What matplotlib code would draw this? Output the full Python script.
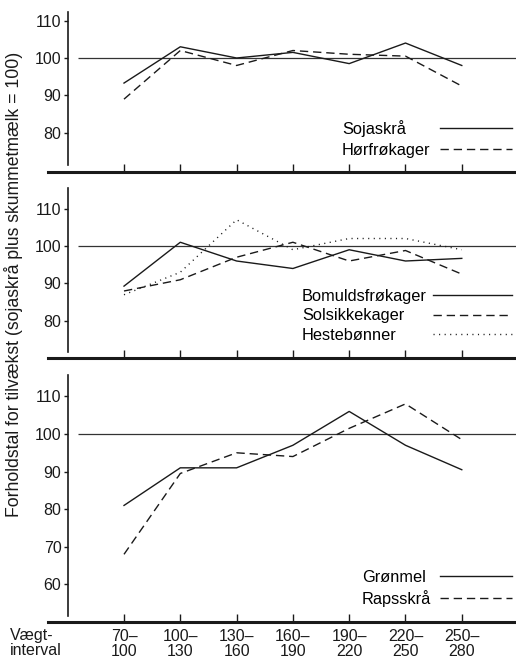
import matplotlib
matplotlib.use("Agg")
import matplotlib.pyplot as plt

plt.rcParams['font.family'] = ['Liberation Sans', 'DejaVu Sans']
plt.rcParams['font.size'] = 11.5

# ---- data ----
intervals = ["70–\n100", "100–\n130", "130–\n160", "160–\n190",
             "190–\n220", "220–\n250", "250–\n280"]
x = list(range(len(intervals)))

sojaskraa = [93.3, 103, 100, 101.5, 98.5, 104, 98]
hoerfroekager = [89, 102, 98, 102, 101, 100.5, 92.5]

bomuldsfroekager = [89.3, 101, 96, 94, 99, 96, 96.7]
solsikkekager = [88, 91, 97, 101, 96, 98.8, 92.5]
hestebonner = [87, 93, 107, 99, 102, 102, 99]

groenmel = [81, 91, 91, 97, 106, 97, 90.5]
rapsskraa = [68, 89.5, 95, 94, 101.5, 108, 98.5]

yticks_top = [80, 90, 100, 110]
yticks_bottom = [60, 70, 80, 90, 100, 110]

ylabel = "Forholdstal for tilvækst (sojaskrå plus skummetmælk = 100)"
xtitle = "Vægt-\ninterval"

# ---- layout helpers (pixels -> figure fraction) ----
W, H = 516, 661
fig = plt.figure(figsize=(W / 100, H / 100), dpi=100)

def fy(p):
    return 1 - p / H

XL = (-1.35, 6.963)
INK = '#1a1a1a'
dashed = (0, (6, 3.5))
dotted = (0, (0.8, 3.2))
LEGFS = 11.8

def make_panel(top_px, bot_px, ylim, spine_bounds, yticks):
    ax = fig.add_axes([48 / W, fy(bot_px), 1 - 48 / W, (bot_px - top_px) / H])
    ax.set_xlim(*XL)
    ax.set_ylim(*ylim)
    ax.patch.set_alpha(0)
    for s in ('top', 'right'):
        ax.spines[s].set_visible(False)
    ax.spines['left'].set_position(('data', -1.0))
    ax.spines['left'].set_bounds(*spine_bounds)
    ax.spines['left'].set_linewidth(1.2)
    ax.spines['left'].set_color(INK)
    ax.spines['bottom'].set_linewidth(2.2)
    ax.spines['bottom'].set_color(INK)
    ax.set_yticks(yticks)
    ax.tick_params(axis='y', direction='out', length=3, width=1, pad=1.5,
                   colors=INK, labelsize=11.5)
    ax.set_xticks(x)
    ax.tick_params(axis='x', direction='in', length=6, width=1, colors=INK)
    ax.set_xticklabels([])
    ax.hlines(100, -0.817, XL[1], color='#333333', lw=0.9)
    return ax

def add_legend(ax, left_px, right_px, top_px, hl, ls):
    leg = ax.legend(loc='upper right', bbox_to_anchor=(right_px / W, fy(top_px)),
                    bbox_transform=fig.transFigure, frameon=False, markerfirst=False,
                    handlelength=hl, handletextpad=0.3, borderpad=0, borderaxespad=0,
                    labelspacing=ls, fontsize=LEGFS)
    # left-align the texts, right-align the keys in a fixed-width row
    for col in leg._legend_handle_box.get_children():
        for row in col.get_children():
            row.mode = 'expand'
            row.set_width(right_px - left_px)
    return leg

# panel 1
ax1 = make_panel(5, 172, (69.52, 114.17), (71.4, 112.3), yticks_top)
ax1.plot(x, sojaskraa, color=INK, lw=1.0, label="Sojaskrå")
ax1.plot(x, hoerfroekager, color=INK, lw=1.0, ls=dashed, label="Hørfrøkager")
add_legend(ax1, 342, 512, 120, 4.4, 0.38)

# panel 2
ax2 = make_panel(185, 358, (70.13, 116.27), (71.7, 115.5), yticks_top)
ax2.plot(x, bomuldsfroekager, color=INK, lw=1.0, label="Bomuldsfrøkager")
ax2.plot(x, solsikkekager, color=INK, lw=1.0, ls=dashed, label="Solsikkekager")
ax2.plot(x, hestebonner, color=INK, lw=1.0, ls=dotted, label="Hestebønner")
add_legend(ax2, 302, 512, 289, 4.85, 0.26)

# panel 3
ax3 = make_panel(368, 621.7, (50.08, 117.55), (51.6, 115.7), yticks_bottom)
ax3.plot(x, groenmel, color=INK, lw=1.0, label="Grønmel")
ax3.plot(x, rapsskraa, color=INK, lw=1.0, ls=dashed, label="Rapsskrå")
add_legend(ax3, 362, 512, 570, 4.4, 0.28)
ax3.set_xticklabels(intervals, linespacing=1.0)
ax3.tick_params(axis='x', pad=5, labelsize=11.5)

fig.text(10 / W, fy(628), xtitle, ha='left', va='top', linespacing=1.0,
         fontsize=11.5, color=INK)
fig.text(14 / W, fy(284), ylabel, rotation=90, ha='center', va='center',
         fontsize=12.7, color=INK)

fig.savefig("out.png", dpi=100)
